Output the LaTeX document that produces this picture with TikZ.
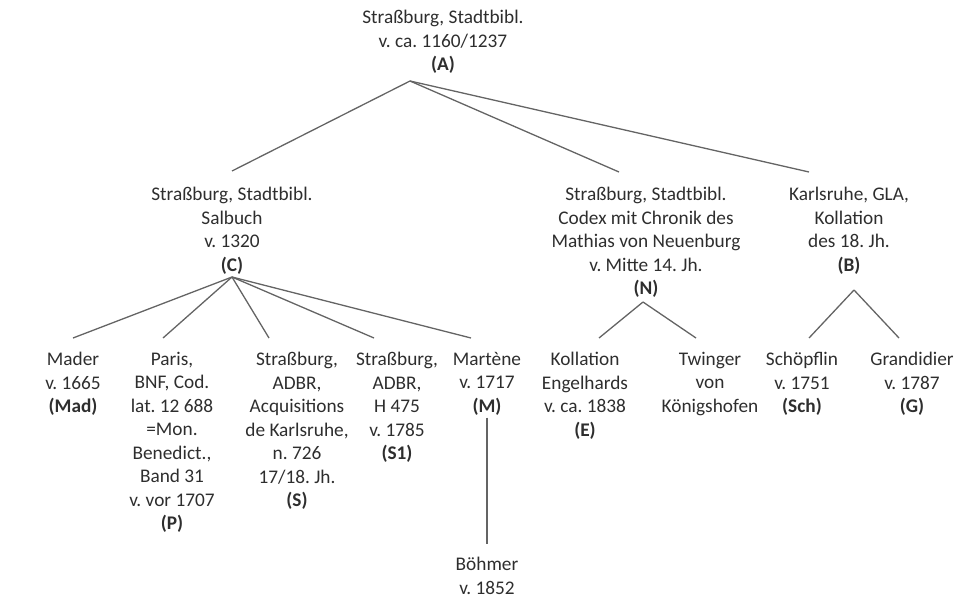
\documentclass[tikz,border=0pt]{standalone}
\usepackage{fontspec}
\setmainfont{Carlito}
\usetikzlibrary{calc}
\definecolor{StemGrey}{HTML}{646464}
\definecolor{InkGrey}{HTML}{2E2E2E}
\newcommand\linestrut{\rule{0pt}{16pt}}
\tikzset{
    witness/.style = {align=center, inner sep=0pt, anchor=north,
        text=InkGrey, font=\fontsize{19.3}{23.5}\selectfont\frenchspacing,
        execute at begin node=\linestrut},
    branch/.style = {draw=StemGrey, line width=1.3pt}
}

\begin{document}
\begin{tikzpicture}[x=1pt,y=-1pt]
        \useasboundingbox (0,0) rectangle (960,597);
        % archetype
        \node[witness] (A) at (443,10) {Straßburg, Stadtbibl.\\v. ca. 1160/1237\\\textbf{(A)}};
        % second generation
        \node[witness] (C) at (232,187) {Straßburg, Stadtbibl.\\Salbuch\\v. 1320\\\textbf{(C)}};
        \node[witness] (N) at (646,187) {Straßburg, Stadtbibl.\\Codex mit Chronik des\\Mathias von Neuenburg\\v. Mitte 14. Jh.\\\textbf{(N)}};
        \node[witness] (B) at (849,187) {Karlsruhe, GLA,\\Kollation\\des 18. Jh.\\\textbf{(B)}};
        % copies
        \node[witness] (Mad) at (73,352) {Mader\\v. 1665\\\textbf{(Mad)}};
        \node[witness] (P) at (172,352) {Paris,\\BNF, Cod.\\lat. 12 688\\=Mon.\\Benedict.,\\Band 31\\v. vor 1707\\\textbf{(P)}};
        \node[witness] (S) at (297,352) {Straßburg,\\ADBR,\\Acquisitions\\de Karlsruhe,\\n. 726\\17/18. Jh.\\\textbf{(S)}};
        \node[witness] (S1) at (397,352) {Straßburg,\\ADBR,\\H 475\\v. 1785\\\textbf{(S1)}};
        \node[witness] (M) at (487,352) {Martène\\v. 1717\\\textbf{(M)}};
        \node[witness] (E) at (585,352) {Kollation\\Engelhards\\v. ca. 1838\\\textbf{(E)}};
        \node[witness] (Tw) at (710,352) {Twinger\\von\\Königshofen};
        \node[witness] (Sch) at (802,352) {Schöpflin\\v. 1751\\\textbf{(Sch)}};
        \node[witness] (G) at (912,352) {Grandidier\\v. 1787\\\textbf{(G)}};
        \node[witness] (Boe) at (487,557) {Böhmer\\v. 1852};
        % forks
        \coordinate (A-fork) at (410,81);
        \coordinate (C-fork) at (232,277);
        \coordinate (N-fork) at (643,302);
        \coordinate (B-fork) at (854,290);
        \draw[branch] (A-fork) -- ([yshift=16pt]C.north);
        \draw[branch] (A-fork) -- ([xshift=-27pt,yshift=15pt]N.north);
        \draw[branch] (A-fork) -- ([xshift=-40pt,yshift=15pt]B.north);
        \draw[branch] (C-fork) -- ([yshift=14pt]Mad.north);
        \draw[branch] (C-fork) -- ([xshift=-9pt,yshift=14pt]P.north);
        \draw[branch] (C-fork) -- ([xshift=-28pt,yshift=14pt]S.north);
        \draw[branch] (C-fork) -- ([xshift=-23pt,yshift=14pt]S1.north);
        \draw[branch] (C-fork) -- ([xshift=-16pt,yshift=14pt]M.north);
        \draw[branch] (N-fork) -- ([xshift=14pt,yshift=14pt]E.north);
        \draw[branch] (N-fork) -- ([xshift=-14pt,yshift=14pt]Tw.north);
        \draw[branch] (B-fork) -- ([xshift=7pt,yshift=14pt]Sch.north);
        \draw[branch] (B-fork) -- ([xshift=-13pt,yshift=14pt]G.north);
        \draw[branch] ([yshift=-2pt]M.south) -- ([yshift=13pt]Boe.north);
\end{tikzpicture}
\end{document}
